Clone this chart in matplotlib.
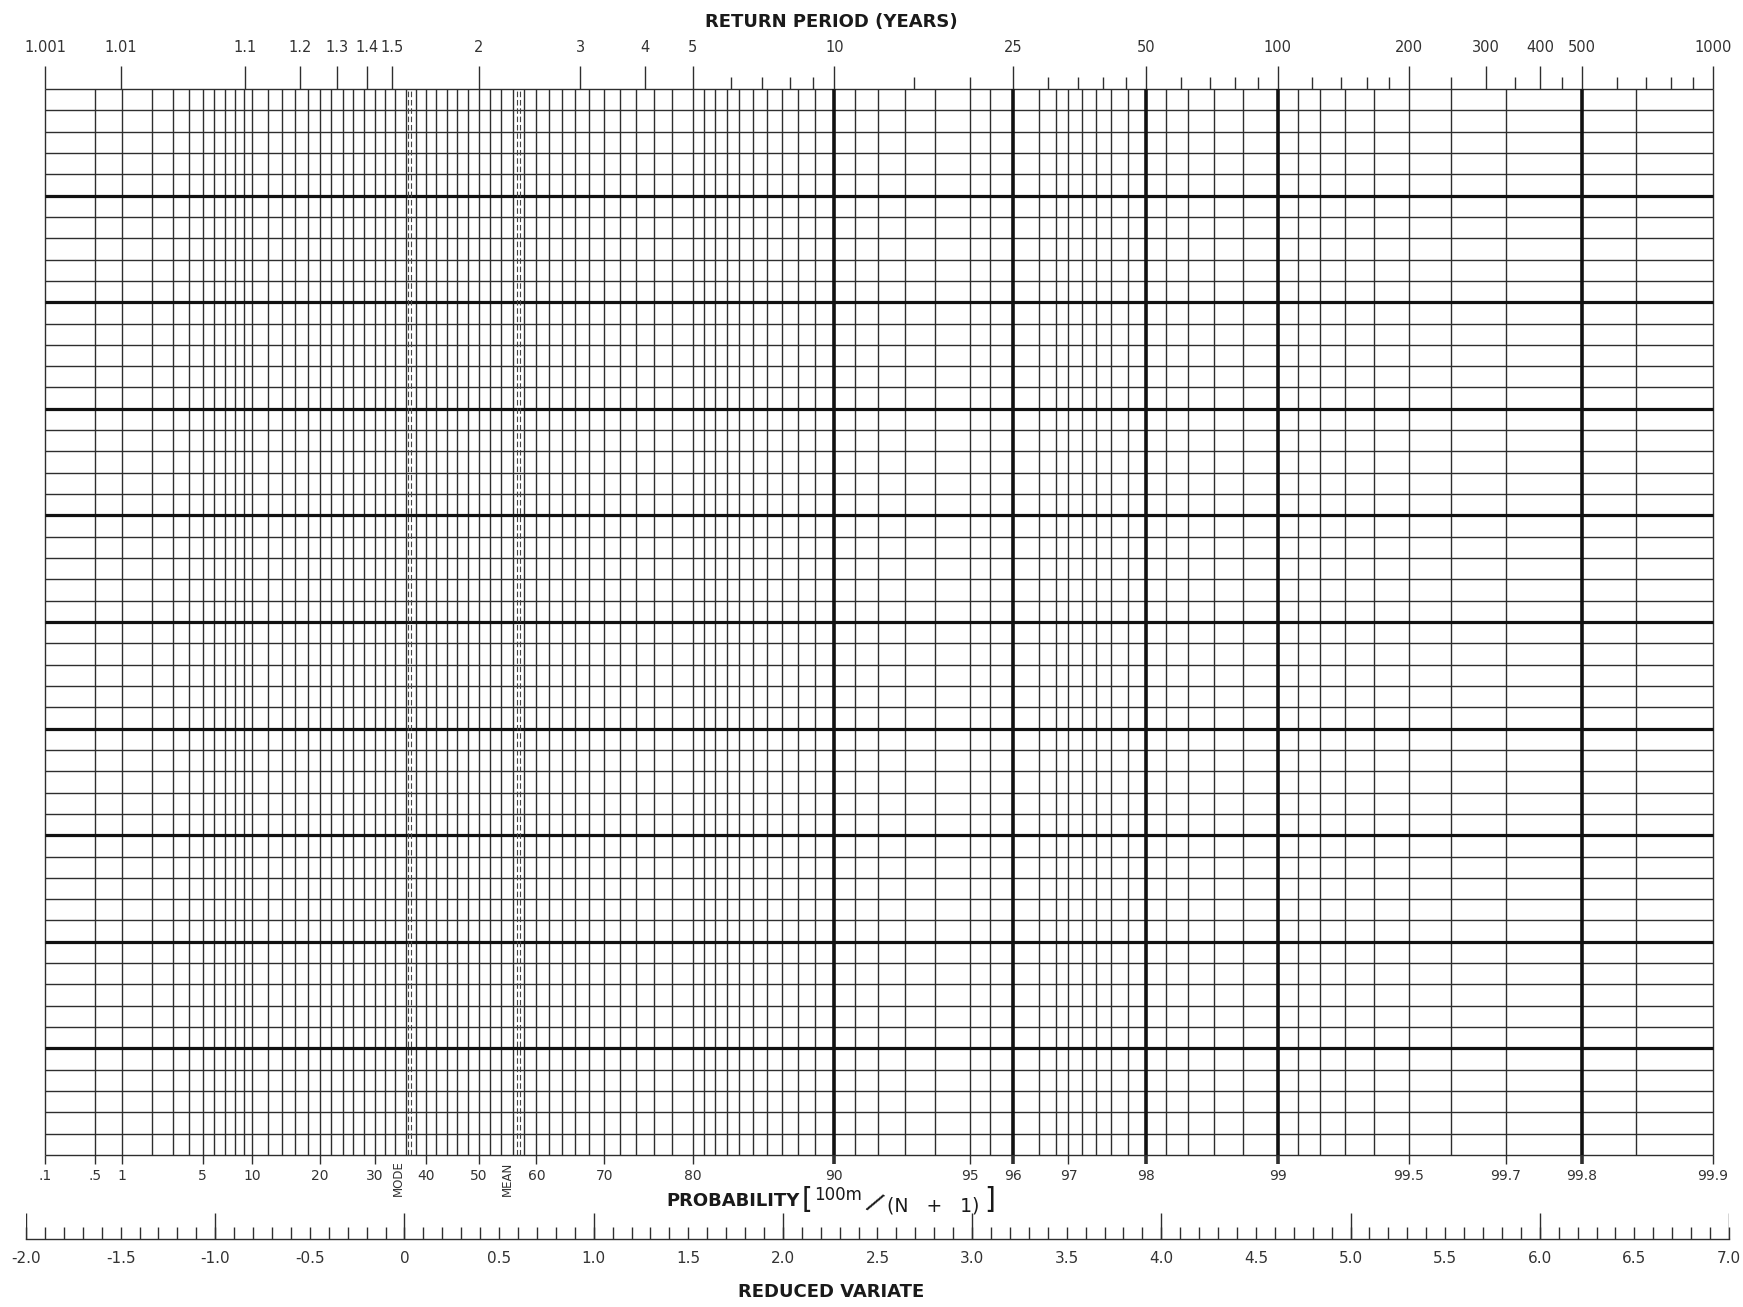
import numpy as np
import matplotlib
matplotlib.use("Agg")
import matplotlib.pyplot as plt
from matplotlib import transforms as mtrans
from matplotlib.ticker import MultipleLocator, FixedLocator, FixedFormatter, FuncFormatter

# ---------------- data ----------------
# probability grid lines (percent, non-exceedance)
prob_grid = [0.1, 0.5, 1, 2, 3, 4, 5, 6, 7, 8, 9, 10, 12, 14, 16, 18, 20, 22, 24, 26, 28,
             30, 32, 34, 36, 38, 40, 42, 44, 46, 48, 50, 52, 54, 56, 58, 60, 62, 64, 66, 68,
             70, 72, 74, 76, 78, 80, 81, 82, 83, 84, 85, 86, 87, 88, 89, 91, 92, 93, 94, 95,
             95.5, 96.5, 96.8, 97, 97.2, 97.4, 97.6, 97.8, 98.2, 98.4, 98.6, 98.8, 99.1, 99.2,
             99.3, 99.4, 99.5, 99.6, 99.7, 99.85, 99.9]
prob_thick = [90, 96, 98, 99, 99.8]
prob_label_values = [0.1, 0.5, 1, 5, 10, 20, 30, 40, 50, 60, 70, 80, 90, 95, 96, 97, 98,
                     99, 99.5, 99.7, 99.8, 99.9]
prob_labels = [".1", ".5", "1", "5", "10", "20", "30", "40", "50", "60", "70", "80", "90",
               "95", "96", "97", "98", "99", "99.5", "99.7", "99.8", "99.9"]
prob_no_tick = [0.1, 0.5, 99.9]

# return period scale (years)
return_major = [1.001, 1.01, 1.1, 1.2, 1.3, 1.4, 1.5, 2, 3, 4, 5, 10, 25, 50, 100, 200,
                300, 400, 500, 1000]
return_labels = ["1.001", "1.01", "1.1", "1.2", "1.3", "1.4", "1.5", "2", "3", "4", "5",
                 "10", "25", "50", "100", "200", "300", "400", "500", "1000"]
return_minor = [6, 7, 8, 9, 15, 20, 30, 35, 40, 45, 60, 70, 80, 90, 120, 140, 160, 180,
                250, 350, 450, 600, 700, 800, 900]

# reduced variate scale
rv_range = [-2.0, 7.0]
rv_long_ticks = [-2, -1, 0, 1, 2, 3, 4, 5, 6, 7]
rv_mode = 0.0
rv_mean = 0.5772

# vertical divisions of the ordinate (unlabelled)
n_rows = 50
rows_thick_every = 5


def p_to_rv(p):
    return -np.log(-np.log(np.asarray(p, dtype=float) / 100.0))


def t_to_rv(t):
    t = np.asarray(t, dtype=float)
    return -np.log(-np.log(1.0 - 1.0 / t))


# ---------------- layout ----------------
W, H = 1743, 1307
fig = plt.figure(figsize=(W / 100, H / 100), dpi=100)
fig.patch.set_facecolor("white")

LC = "#2e2e2e"
xl = float(p_to_rv(prob_grid[0]))
xr = float(p_to_rv(prob_grid[-1]))
pad = 0.004                  # tiny margin so edge ticks are kept

gx0, gx1 = 45, 1713          # grid left / right (px)
scale = (gx1 - gx0) / (xr - xl)
ax_l = gx0 - pad * scale
ax_r = gx1 + pad * scale
grid_top, grid_bot = 89, 1155
ax = fig.add_axes([ax_l / W, 1 - grid_bot / H, (ax_r - ax_l) / W, (grid_bot - grid_top) / H])
ax.set_xlim(xl - pad, xr + pad)
ax.set_ylim(0, n_rows)
for s in ax.spines.values():
    s.set_visible(False)
ax.set_yticks([])

# horizontal lines
rows = np.arange(n_rows + 1)
thin_rows = [r for r in rows if r % rows_thick_every != 0 or r in (0, n_rows)]
thick_rows = [r for r in rows if r % rows_thick_every == 0 and r not in (0, n_rows)]
ax.hlines(thin_rows, xl, xr, colors=LC, lw=1.0, zorder=2, clip_on=False)
ax.hlines(thick_rows, xl, xr, colors="#111111", lw=2.3, zorder=3, clip_on=False)

# vertical lines
ax.vlines(p_to_rv(prob_grid), 0, n_rows, colors=LC, lw=1.0, zorder=2, clip_on=False)
ax.vlines(p_to_rv(prob_thick), 0, n_rows, colors="#111111", lw=2.6, zorder=3, clip_on=False)

# mode and mean dashed double lines
for xv in (rv_mode, rv_mean):
    for dx in (-0.017, 0.017):
        tr = ax.transData + mtrans.ScaledTranslation(dx, 0, fig.dpi_scale_trans)
        ax.plot([xv, xv], [0, n_rows], transform=tr, color="#444444", lw=0.8,
                dashes=(5, 2.5), zorder=4, clip_on=False)

# bottom probability ticks and labels
ax.xaxis.set_major_locator(FixedLocator(p_to_rv(prob_label_values)))
ax.xaxis.set_major_formatter(FixedFormatter(prob_labels))
ax.tick_params(axis="x", which="major", direction="out", length=6.5, width=1.0,
               color=LC, pad=3.5, labelsize=10, labelcolor="#333333", top=False)
for tk, pv in zip(ax.xaxis.get_major_ticks(), prob_label_values):
    if pv in prob_no_tick:
        tk.tick1line.set_visible(False)
    if pv in prob_thick:
        tk.tick1line.set_markeredgewidth(2.6)

label_tr = mtrans.blended_transform_factory(ax.transData, ax.transAxes)
for xv, txt in ((rv_mode, "MODE"), (rv_mean, "MEAN")):
    tr = label_tr + mtrans.ScaledTranslation(-0.11, -0.235, fig.dpi_scale_trans)
    ax.text(xv, 0, txt, transform=tr, rotation=90, ha="center", va="center",
            fontsize=8.5, color="#333333")

# top return-period scale
axt = ax.twiny()
axt.set_xlim(ax.get_xlim())
for s in axt.spines.values():
    s.set_visible(False)
axt.xaxis.set_major_locator(FixedLocator(t_to_rv(return_major)))
axt.xaxis.set_major_formatter(FixedFormatter(return_labels))
axt.xaxis.set_minor_locator(FixedLocator(t_to_rv(return_minor)))
axt.tick_params(axis="x", which="major", direction="out", length=16.5, width=1.0,
                color=LC, pad=8, labelsize=10.5, labelcolor="#333333")
axt.tick_params(axis="x", which="minor", direction="out", length=8.5, width=1.0,
                color=LC)

# reduced variate scale
x0_px, x1_px = 26, 1729
axr_bot = 1239
axr = fig.add_axes([x0_px / W, 1 - axr_bot / H, (x1_px - x0_px) / W, 26 / H])
axr.set_xlim(rv_range)
axr.set_ylim(0, 1)
axr.patch.set_visible(False)
for k in ("top", "left", "right"):
    axr.spines[k].set_visible(False)
axr.spines["bottom"].set_color(LC)
axr.spines["bottom"].set_linewidth(1.0)
axr.set_yticks([])
axr.xaxis.set_major_locator(MultipleLocator(0.5))
axr.xaxis.set_minor_locator(MultipleLocator(0.1))
axr.xaxis.set_major_formatter(FuncFormatter(
    lambda v, pos: "0" if abs(v) < 1e-9 else ("%.1f" % v).replace("\u2212", "-")))
axr.tick_params(axis="x", which="both", direction="in", length=8.6, width=1.0,
                color=LC, pad=8.5, labelsize=11, labelcolor="#333333")
axr.vlines(rv_long_ticks, 0, 1, colors=LC, lw=1.0)

# titles
TC = "#1a1a1a"
fig.text(831 / W, 1 - 22 / H, "RETURN PERIOD (YEARS)", ha="center", va="center",
         fontsize=13, fontweight="bold", color=TC)
fig.text(666 / W, 1 - 1201 / H, "PROBABILITY", ha="left", va="center",
         fontsize=13, fontweight="bold", color=TC)
fig.text(802 / W, 1 - 1200 / H, "[", ha="left", va="center", fontsize=20, color=TC)
fig.text(814 / W, 1 - 1195 / H, "100m", ha="left", va="center", fontsize=12, color=TC)
fig.text(874 / W, 1 - 1204 / H, "/", ha="center", va="center", fontsize=19,
         rotation=-33, color=TC)
fig.text(933 / W, 1 - 1206 / H, "(N   +   1)", ha="center", va="center", fontsize=13.5,
         color=TC)
fig.text(984 / W, 1 - 1200 / H, "]", ha="left", va="center", fontsize=20, color=TC)
fig.text(831 / W, 1 - 1292 / H, "REDUCED VARIATE", ha="center", va="center",
         fontsize=13, fontweight="bold", color=TC)

fig.savefig("out.png", dpi=100, facecolor="white")
